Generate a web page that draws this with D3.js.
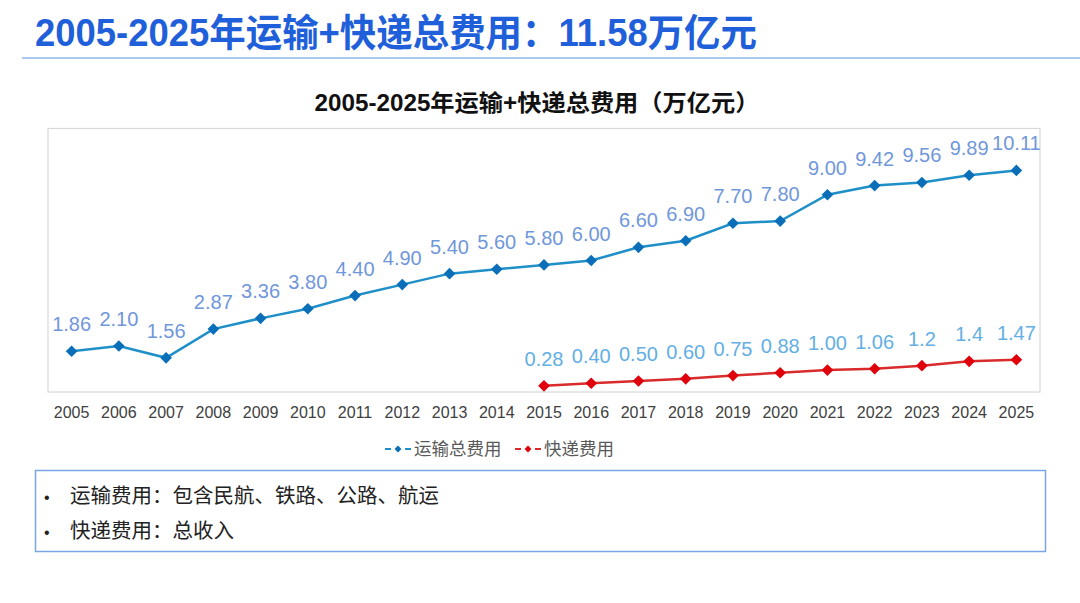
<!DOCTYPE html>
<html>
<head>
<meta charset="utf-8">
<script src="https://cdn.jsdelivr.net/npm/d3@7/dist/d3.min.js"></script>
<style>
html,body{margin:0;padding:0;background:#fff;}
svg{display:block;}
</style>
</head>
<body>
<svg id="chart" width="1080" height="603"></svg>
<script>
const years = ["2005","2006","2007","2008","2009","2010","2011","2012","2013","2014","2015","2016","2017","2018","2019","2020","2021","2022","2023","2024","2025"];
const transportValues = [1.86,2.10,1.56,2.87,3.36,3.80,4.40,4.90,5.40,5.60,5.80,6.00,6.60,6.90,7.70,7.80,9.00,9.42,9.56,9.89,10.11];
const transportLabels = ["1.86","2.10","1.56","2.87","3.36","3.80","4.40","4.90","5.40","5.60","5.80","6.00","6.60","6.90","7.70","7.80","9.00","9.42","9.56","9.89","10.11"];
const expressYears = ["2015","2016","2017","2018","2019","2020","2021","2022","2023","2024","2025"];
const expressValues = [0.28,0.40,0.50,0.60,0.75,0.88,1.00,1.06,1.2,1.4,1.47];
const expressLabels = ["0.28","0.40","0.50","0.60","0.75","0.88","1.00","1.06","1.2","1.4","1.47"];
const seriesNames = ["运输总费用","快递费用"];
const pageTitle = "2005-2025年运输+快递总费用：11.58万亿元";
const chartTitle = "2005-2025年运输+快递总费用（万亿元）";
const notes = ["运输费用：包含民航、铁路、公路、航运","快递费用：总收入"];

const FONT = "'Liberation Sans','Noto Sans CJK SC',sans-serif";
const CJK = "'Noto Sans CJK SC','Liberation Sans',sans-serif";
const svg = d3.select("#chart");

// page title
svg.append("text").attr("x",35).attr("y",46)
  .attr("font-family",FONT).attr("font-weight","bold").attr("font-size",38)
  .attr("fill","#1f5fd9").attr("textLength",722).attr("lengthAdjust","spacingAndGlyphs")
  .text(pageTitle);
svg.append("line").attr("x1",22).attr("x2",1080).attr("y1",58).attr("y2",58)
  .attr("stroke","#a9c9f1").attr("stroke-width",2);

// chart title
svg.append("text").attr("x",537).attr("y",111).attr("text-anchor","middle")
  .attr("font-family",FONT).attr("font-weight","bold").attr("font-size",23)
  .attr("fill","#111").attr("textLength",445).attr("lengthAdjust","spacingAndGlyphs")
  .text(chartTitle);

const x = d3.scaleBand().domain(years).range([48,1040]).padding(0);
const cx = d => x(d) + x.bandwidth()/2;
const y = d3.scaleLinear().domain([0,12]).range([392,129]);

// plot frame
svg.append("rect").attr("x",48).attr("y",128.5).attr("width",992).attr("height",263.5)
  .attr("fill","none").attr("stroke","#d9d9d9").attr("stroke-width",1.2);

// x axis
const ax = svg.append("g").attr("transform","translate(0,392)")
  .call(d3.axisBottom(x).tickSize(0).tickPadding(15));
ax.select(".domain").remove();
ax.selectAll("text").attr("font-family",FONT).attr("font-size",16).attr("fill","#404040");

const tData = years.map((yr,i)=>({yr, v:transportValues[i], l:transportLabels[i]}));
const eData = expressYears.map((yr,i)=>({yr, v:expressValues[i], l:expressLabels[i]}));

const line = d3.line().x(d=>cx(d.yr)).y(d=>y(d.v));
const diamond = d3.symbol().type(d3.symbolSquare).size(68);

function drawSeries(data, lineColor, markerColor, labelColor){
  svg.append("path").datum(data).attr("d",line).attr("fill","none")
    .attr("stroke",lineColor).attr("stroke-width",2.5);
  svg.append("g").selectAll("path").data(data).join("path")
    .attr("d",diamond)
    .attr("transform",d=>`translate(${cx(d.yr)},${y(d.v)}) rotate(45)`)
    .attr("fill",markerColor);
  svg.append("g").selectAll("text").data(data).join("text")
    .attr("x",d=>cx(d.yr)).attr("y",d=>y(d.v)-20)
    .attr("text-anchor","middle").attr("font-family",FONT).attr("font-size",20)
    .attr("fill",labelColor).text(d=>d.l);
}
drawSeries(tData,"#1f8fc8","#0a6fb8","#7097da");
drawSeries(eData,"#d92b2b","#e0000b","#63afe3");

// legend
const legend = [
  {name:seriesNames[0], line:"#1f8fc8", mark:"#0a6fb8", mx:398, tx:414},
  {name:seriesNames[1], line:"#d92b2b", mark:"#e0000b", mx:528, tx:544}
];
const lg = svg.append("g");
legend.forEach(d=>{
  lg.append("line").attr("x1",d.mx-13).attr("x2",d.mx-7).attr("y1",449).attr("y2",449).attr("stroke",d.line).attr("stroke-width",2);
  lg.append("line").attr("x1",d.mx+7).attr("x2",d.mx+13).attr("y1",449).attr("y2",449).attr("stroke",d.line).attr("stroke-width",2);
  lg.append("path").attr("d",d3.symbol().type(d3.symbolSquare).size(24)).attr("transform",`translate(${d.mx},449) rotate(45)`).attr("fill",d.mark);
  lg.append("text").attr("x",d.tx).attr("y",455).attr("font-family",CJK).attr("font-size",17.5).attr("fill","#595959").text(d.name);
});

// notes box
svg.append("rect").attr("x",35.5).attr("y",470.5).attr("width",1010).attr("height",81)
  .attr("fill","none").attr("stroke","#79a6e6").attr("stroke-width",1.5);
notes.forEach((t,i)=>{
  const by = 503 + i*35;
  svg.append("text").attr("x",44).attr("y",by).attr("font-family",FONT).attr("font-size",16).attr("fill","#222").text("•");
  svg.append("text").attr("x",70).attr("y",by).attr("font-family",CJK).attr("font-size",20.5).attr("fill","#222").text(t);
});
</script>
</body>
</html>
